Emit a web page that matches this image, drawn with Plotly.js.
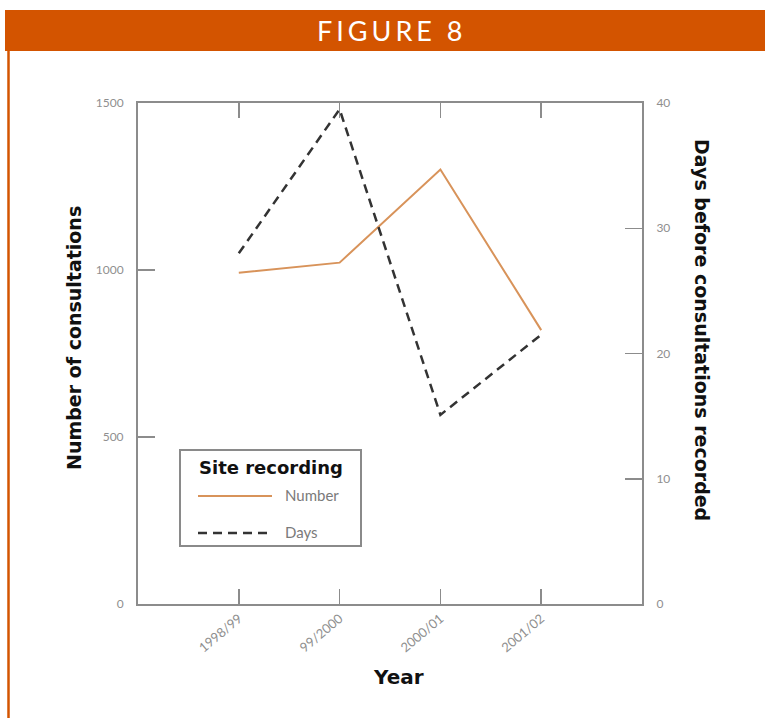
<!DOCTYPE html>
<html>
<head>
<meta charset="utf-8">
<script src="https://cdn.plot.ly/plotly-3.0.1.min.js"></script>
<style>
  html, body { margin: 0; padding: 0; background: #fff; }
  #chart { width: 765px; height: 718px; }
</style>
</head>
<body>
<div id="chart"></div>
<script>
// ---- data ----
const years = ['1998/99', '99/2000', '2000/01', '2001/02'];
const consultations = [992, 1022, 1301, 820];
const daysBefore = [28, 39.5, 15.1, 21.5];
const seriesNames = ['Number', 'Days'];
const legendTitle = 'Site recording';
const figureTitle = 'FIGURE 8';
const xTitle = 'Year';
const yTitle = 'Number of consultations';
const y2Title = 'Days before consultations recorded';

// ---- styling ----
const axisGray = '#8c8c8c';
const tickFont = { family: 'Lato, "Open Sans", sans-serif', size: 12, color: '#8f8f8f' };
const titleFont = { family: '"DejaVu Sans", sans-serif', size: 19, color: '#111' };
const orange = '#d35400';
const numberColor = '#d8935a';
const daysColor = '#333333';
const daysDash = '9px,6px';

// paper coordinate helpers (plot area 138..642 x, 103..604 y)
const L = 138, R = 642, T = 103, B = 604;
const px = v => (v - L) / (R - L);
const py = v => (B - v) / (B - T);

const traces = [
  {
    x: years, y: consultations, name: seriesNames[0], type: 'scatter', mode: 'lines',
    line: { color: numberColor, width: 2 }, yaxis: 'y', showlegend: false
  },
  {
    x: years, y: daysBefore, name: seriesNames[1], type: 'scatter', mode: 'lines',
    line: { color: daysColor, width: 2.5, dash: daysDash }, yaxis: 'y2', showlegend: false
  }
];

const layout = {
  width: 765, height: 718,
  margin: { l: L, r: 765 - R, t: T, b: 718 - B, pad: 0 },
  paper_bgcolor: '#ffffff', plot_bgcolor: '#ffffff',
  showlegend: false,
  xaxis: {
    type: 'category', range: [-1, 4],
    showline: true, linecolor: axisGray, linewidth: 2, mirror: 'ticks',
    ticks: 'inside', ticklen: 15, tickwidth: 1.5, tickcolor: axisGray,
    tickangle: -40, tickfont: { family: 'Lato, "Open Sans", sans-serif', size: 13, color: '#8f8f8f' },
    showgrid: false, zeroline: false
  },
  yaxis: {
    range: [0, 1500], tickvals: [0, 500, 1000, 1500], ticktext: ['0', '500', '1000', '1500'],
    showline: true, linecolor: axisGray, linewidth: 2,
    ticks: 'inside', ticklen: 17, tickwidth: 1.5, tickcolor: axisGray,
    ticklabelstandoff: 10, tickfont: tickFont, showgrid: false, zeroline: false
  },
  yaxis2: {
    range: [0, 40], tickvals: [0, 10, 20, 30, 40],
    overlaying: 'y', side: 'right',
    showline: true, linecolor: axisGray, linewidth: 2,
    ticks: 'inside', ticklen: 17, tickwidth: 1.5, tickcolor: axisGray,
    ticklabelstandoff: 10, tickfont: tickFont, showgrid: false, zeroline: false
  },
  shapes: [
    // header band and page frame
    { type: 'rect', xref: 'paper', yref: 'paper', x0: px(5), x1: px(770), y0: py(51), y1: py(10),
      fillcolor: orange, line: { width: 0 }, layer: 'above' },
    { type: 'line', xref: 'paper', yref: 'paper', x0: px(8.5), x1: px(8.5), y0: py(725), y1: py(51),
      line: { color: orange, width: 2.5 } },
    // legend box and keys
    { type: 'rect', xref: 'paper', yref: 'paper', x0: px(180), x1: px(361), y0: py(546), y1: py(450),
      fillcolor: '#ffffff', line: { color: '#8a8a8a', width: 2 }, layer: 'above' },
    { type: 'line', xref: 'paper', yref: 'paper', x0: px(198), x1: px(272), y0: py(496), y1: py(496),
      line: { color: numberColor, width: 2 }, layer: 'above' },
    { type: 'line', xref: 'paper', yref: 'paper', x0: px(198), x1: px(272), y0: py(533), y1: py(533),
      line: { color: daysColor, width: 2.5, dash: daysDash }, layer: 'above' }
  ],
  annotations: [
    { text: figureTitle, xref: 'paper', yref: 'paper', x: px(392), y: py(31), showarrow: false,
      xanchor: 'center', yanchor: 'middle', font: { family: 'Lato, "Open Sans", sans-serif', size: 27, color: '#ffffff' } },
    { text: '<b>' + yTitle + '</b>', xref: 'paper', yref: 'paper', x: px(74), y: py(338), showarrow: false,
      textangle: -90, xanchor: 'center', yanchor: 'middle', font: titleFont },
    { text: '<b>' + y2Title + '</b>', xref: 'paper', yref: 'paper', x: px(702), y: py(330), showarrow: false,
      textangle: 90, xanchor: 'center', yanchor: 'middle', font: titleFont },
    { text: '<b>' + xTitle + '</b>', xref: 'paper', yref: 'paper', x: px(398), y: py(677), showarrow: false,
      xanchor: 'center', yanchor: 'middle', font: { family: '"DejaVu Sans", sans-serif', size: 20, color: '#111' } },
    // legend texts
    { text: '<b>' + legendTitle + '</b>', xref: 'paper', yref: 'paper', x: px(197), y: py(468), showarrow: false,
      xanchor: 'left', yanchor: 'middle', font: { family: '"DejaVu Sans", sans-serif', size: 18, color: '#111' } },
    { text: seriesNames[0], xref: 'paper', yref: 'paper', x: px(283), y: py(495), showarrow: false,
      xanchor: 'left', yanchor: 'middle', font: { family: 'Lato, "Open Sans", sans-serif', size: 15, color: '#7a7a7a' } },
    { text: seriesNames[1], xref: 'paper', yref: 'paper', x: px(283), y: py(532), showarrow: false,
      xanchor: 'left', yanchor: 'middle', font: { family: 'Lato, "Open Sans", sans-serif', size: 15, color: '#7a7a7a' } }
  ]
};

Plotly.newPlot('chart', traces, layout, { displayModeBar: false, staticPlot: true }).then(gd => {
  const ann = gd.querySelectorAll('.annotation-text');
  if (ann.length) ann[0].style.letterSpacing = '4px';
});
</script>
</body>
</html>
